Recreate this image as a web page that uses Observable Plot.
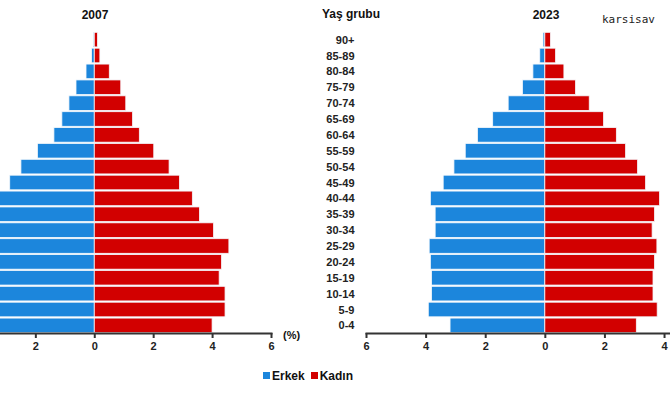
<!DOCTYPE html>
<html>
<head>
<meta charset="utf-8">
<script src="https://cdn.jsdelivr.net/npm/d3@7"></script>
<script src="https://cdn.jsdelivr.net/npm/@observablehq/plot@0.6"></script>
<style>
  html, body { margin: 0; padding: 0; background: #fff; }
  #wrap { position: relative; width: 670px; height: 394px; overflow: hidden; font-family: "Liberation Sans", Arial, sans-serif; }
  .abs { position: absolute; white-space: nowrap; }
  .t { font-weight: bold; font-size: 12px; color: #111; }
  .sw { display: inline-block; width: 7px; height: 7px; margin-right: 2px; vertical-align: 1px; }
  svg { overflow: visible; }
</style>
</head>
<body>
<div id="wrap"></div>
<script>
const ages = ["0-4","5-9","10-14","15-19","20-24","25-29","30-34","35-39","40-44","45-49","50-54","55-59","60-64","65-69","70-74","75-79","80-84","85-89","90+"];
const male2007   = [4.1, 4.5, 4.5, 4.3, 4.4, 4.6, 4.1, 3.6, 3.4, 2.87, 2.49, 1.93, 1.37, 1.10, 0.86, 0.62, 0.28, 0.09, 0.03];
const female2007 = [4.00, 4.44, 4.44, 4.24, 4.32, 4.57, 4.05, 3.57, 3.33, 2.89, 2.54, 2.02, 1.53, 1.30, 1.07, 0.90, 0.51, 0.19, 0.11];
const male2023   = [3.18, 3.91, 3.80, 3.80, 3.84, 3.88, 3.68, 3.68, 3.84, 3.41, 3.05, 2.67, 2.26, 1.75, 1.23, 0.75, 0.40, 0.17, 0.06];
const female2023 = [3.07, 3.77, 3.63, 3.63, 3.68, 3.76, 3.60, 3.68, 3.85, 3.38, 3.11, 2.71, 2.40, 1.97, 1.49, 1.03, 0.64, 0.36, 0.19];
const ticks2007 = [-2, 0, 2, 4, 6];
const ticks2023 = [-6, -4, -2, 0, 2, 4];
const sexes = ["Erkek", "Kadın"];
const colors = ["#1c86dc", "#d20000"];

function rows(m, f) {
  const out = [];
  ages.forEach((a, i) => {
    out.push({age: a, sex: sexes[0], v: -m[i]});
    out.push({age: a, sex: sexes[1], v: f[i]});
  });
  return out;
}
const domainY = ages.slice().reverse();
const common = {
  height: 360, marginTop: 32, marginBottom: 27,
  style: {fontFamily: "'Liberation Sans', Arial, sans-serif", fontSize: "11px", fontWeight: "bold", color: "#222", background: "transparent", overflow: "visible"},
  color: {domain: sexes, range: colors}
};

const left = Plot.plot({
  ...common,
  width: 360, marginLeft: 0, marginRight: 89,
  x: {domain: [-3.2, 6], ticks: ticks2007, tickFormat: d => Math.abs(d), label: null, tickSize: 5},
  y: {domain: domainY, paddingInner: 0.08, paddingOuter: 0.02, round: false, label: null},
  marks: [
    Plot.barX(rows(male2007, female2007), {x: "v", y: "age", fill: "sex", stroke: "#f4f8fc", strokeWidth: 0.8, clip: true}),
    Plot.axisY({anchor: "right", tickSize: 0, tickPadding: 83, textAnchor: "end", label: null, fontSize: 11}),
    Plot.axisX({anchor: "bottom", ticks: ticks2007, tickFormat: d => Math.abs(d), tickSize: 5, label: null, stroke: "#333", strokeWidth: 2}),
    Plot.frame({anchor: "bottom", stroke: "#333", strokeWidth: 2})
  ]
});
const right = Plot.plot({
  ...common,
  width: 310, marginLeft: 6, marginRight: 0,
  x: {domain: [-6, 4.2], ticks: ticks2023, tickFormat: d => Math.abs(d), label: null, tickSize: 5},
  y: {domain: domainY, paddingInner: 0.08, paddingOuter: 0.02, round: false, label: null, axis: null},
  marks: [
    Plot.barX(rows(male2023, female2023), {x: "v", y: "age", fill: "sex", stroke: "#f4f8fc", strokeWidth: 0.8}),
    Plot.axisX({anchor: "bottom", ticks: ticks2023, tickFormat: d => Math.abs(d), tickSize: 5, label: null, stroke: "#333", strokeWidth: 2}),
    Plot.frame({anchor: "bottom", stroke: "#333", strokeWidth: 2})
  ]
});

const wrap = document.getElementById("wrap");
left.style.position = "absolute"; left.style.left = "0px"; left.style.top = "0px";
right.style.position = "absolute"; right.style.left = "360px"; right.style.top = "0px";
wrap.appendChild(right);
wrap.appendChild(left);

function label(text, x, y, cls, extra) {
  const d = document.createElement("div");
  d.className = "abs " + cls;
  d.textContent = text;
  d.style.left = x + "px"; d.style.top = y + "px";
  if (extra) Object.assign(d.style, extra);
  wrap.appendChild(d);
  return d;
}
label("2007", 95, 8, "t", {transform: "translateX(-50%)"});
label("2023", 546, 8, "t", {transform: "translateX(-50%)"});
label("Yaş grubu", 351, 7, "t", {transform: "translateX(-50%)"});
label("karsisav", 602, 13, "", {fontFamily: "'DejaVu Sans Mono', monospace", fontSize: "11px", color: "#222"});
label("(%)", 283, 329, "t", {fontSize: "11px"});

const leg = document.createElement("div");
leg.className = "abs t";
leg.style.left = "263px"; leg.style.top = "369px"; leg.style.fontSize = "12px";
sexes.forEach((s, i) => {
  const sw = document.createElement("span");
  sw.className = "sw"; sw.style.background = colors[i];
  leg.appendChild(sw);
  const t = document.createElement("span");
  t.textContent = s; t.style.marginRight = "6px";
  leg.appendChild(t);
});
wrap.appendChild(leg);
</script>
</body>
</html>
